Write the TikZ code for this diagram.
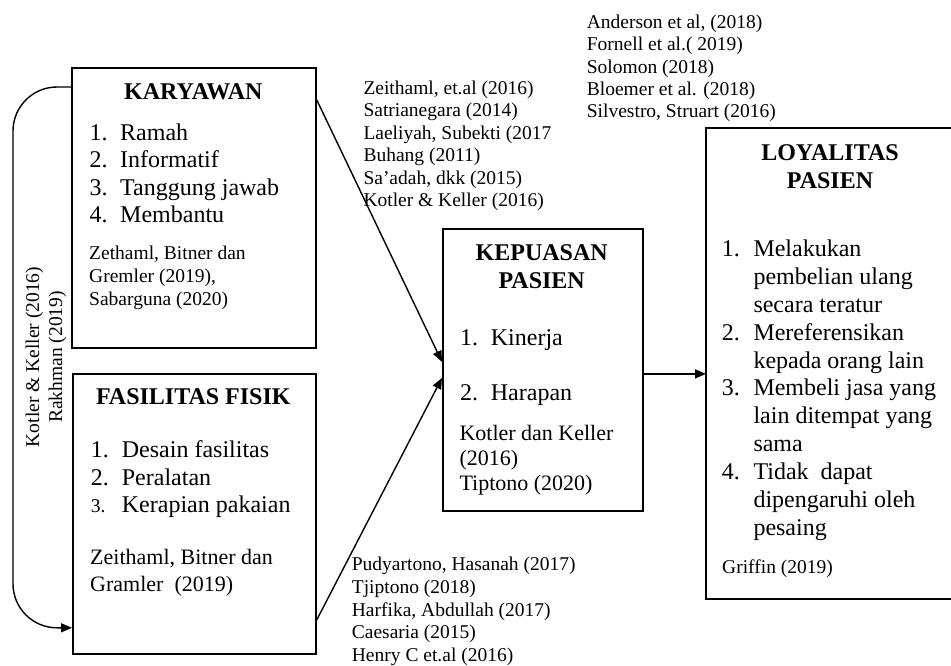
\documentclass[tikz,border=0pt]{standalone}
\usepackage{fontspec}
\setmainfont{Liberation Serif}
\usetikzlibrary{arrows.meta}
\begin{document}
\begin{tikzpicture}[x=1pt,y=-1pt,
  box/.style={draw, line width=1.8pt, inner sep=0pt, anchor=north west},
  arr/.style={line width=1.4pt, -{Triangle[length=11pt,width=9pt]}},
  big/.style={font=\fontsize{24}{27.6}\selectfont, inner sep=0pt, anchor=base west},
  ttl/.style={font=\fontsize{24}{28}\selectfont\bfseries, inner sep=0pt, anchor=base},
  ref/.style={font=\fontsize{19.5}{22.7}\selectfont, inner sep=0pt, anchor=base west},
  mid/.style={font=\fontsize{22}{26}\selectfont, inner sep=0pt, anchor=base west}]
\useasboundingbox (0,0) rectangle (951,665);
% boxes
\node[box, minimum width=244pt, minimum height=280pt] (kar) at (71,67) {};
\node[box, minimum width=243pt, minimum height=280pt] (fas) at (72,373) {};
\node[box, minimum width=200pt, minimum height=282pt] (kep) at (442,228) {};
\node[box, draw=none, minimum width=400pt, minimum height=469pt] (loy) at (706,128) {};
\draw[line width=1.8pt] ([xshift=-60pt]loy.north east) -- (loy.north west) -- (loy.south west) -- ([xshift=-60pt]loy.south east);
% titles
\node[ttl] (karT) at (193.3,99.3) {KARYAWAN};
\node[ttl] (fasT) at (193.3,404) {FASILITAS FISIK};
\node[ttl] (kepT1) at (541.7,260) {KEPUASAN};
\node[ttl] (kepT2) at (541.7,288.3) {PASIEN};
\node[ttl] (loyT1) at (830,160.7) {LOYALITAS};
\node[ttl] (loyT2) at (830,188.3) {PASIEN};
% KARYAWAN list
\foreach \n/\t [count=\i] in {1./Ramah, 2./Informatif, 3./Tanggung jawab, 4./Membantu}{
  \node[big] (karN\i) at (89.3,{140+27.6*(\i-1)}) {\n};
  \node[big] (karL\i) at (120,{140+27.6*(\i-1)}) {\t};
}
\foreach \t [count=\i] in {{Zethaml, Bitner dan}, {Gremler (2019),}, {Sabarguna (2020)}}{
  \node[ref] (karR\i) at (89,{259.3+22.85*(\i-1)}) {\t};
}
% FASILITAS list
\node[big] (fasN1) at (90.7,457.3) {1.};
\node[big] (fasL1) at (121.7,457.3) {Desain fasilitas};
\node[big] (fasN2) at (90.7,485) {2.};
\node[big] (fasL2) at (121.7,485) {Peralatan};
\node[big, font=\fontsize{19.5}{22}\selectfont] (fasN3) at (90.7,512.7) {3.};
\node[big] (fasL3) at (121.7,512.7) {Kerapian pakaian};
\node[mid] (fasR1) at (90,564) {Zeithaml, Bitner dan};
\node[mid] (fasR2) at (90,591.7) {Gramler\ \ (2019)};
% KEPUASAN list
\node[big] (kepN1) at (460,345) {1.};
\node[big] (kepL1) at (490.7,345) {Kinerja};
\node[big] (kepN2) at (460,400) {2.};
\node[big] (kepL2) at (490.7,400) {Harapan};
\node[mid] (kepR1) at (459.3,440) {Kotler dan Keller};
\node[mid] (kepR2) at (459.3,465) {(2016)};
\node[mid] (kepR3) at (459.3,490) {Tiptono (2020)};
% LOYALITAS list
\foreach \n/\t [count=\i] in {1./Melakukan, /pembelian ulang, /secara teratur, 2./Mereferensikan, /kepada orang lain, 3./Membeli jasa yang, /lain ditempat yang, /sama, 4./Tidak\ \ dapat, /dipengaruhi oleh, /pesaing}{
  \node[big] (loyN\i) at (721.7,{256.7+27.85*(\i-1)}) {\n};
  \node[big] (loyL\i) at (753.3,{256.7+27.85*(\i-1)}) {\t};
}
\node[ref] (loyR) at (722,573.3) {Griffin (2019)};
% citation groups
\foreach \t [count=\i] in {{Zeithaml, et.al (2016)}, {Satrianegara (2014)}, {Laeliyah, Subekti (2017}, {Buhang (2011)}, {Sa’adah, dkk (2015)}, {Kotler \& Keller (2016)}}{
  \node[ref] (topA\i) at (363.3,{94+22.55*(\i-1)}) {\t};
}
\foreach \t [count=\i] in {{Anderson et al, (2018)}, {Fornell et al.( 2019)}, {Solomon (2018)}, {Bloemer et al. (2018)}, {Silvestro, Struart (2016)}}{
  \node[ref] (topB\i) at (586.7,{28.3+22.35*(\i-1)}) {\t};
}
\foreach \t [count=\i] in {{Pudyartono, Hasanah (2017)}, {Tjiptono (2018)}, {Harfika, Abdullah (2017)}, {Caesaria (2015)}, {Henry C et.al (2016)}}{
  \node[ref] (bot\i) at (351.7,{570.7+22.75*(\i-1)}) {\t};
}
% rotated label
\node[font=\fontsize{19.5}{23}\selectfont, align=center, rotate=90, inner sep=0pt] (side) at (46,357) {Kotler \& Keller (2016)\\Rakhman (2019)};
% connectors
\draw[arr] ([yshift=-33pt]kar.north east) -- ([yshift=8pt]kep.west);
\draw[arr] ([yshift=35pt]fas.south east) -- ([yshift=-8pt]kep.west);
\draw[arr] ([yshift=-4pt]kep.east) -- ([yshift=-10.5pt]loy.west);
\draw[arr, rounded corners=44pt] ([yshift=-20pt]kar.north west) -| ([xshift=-59pt,yshift=27pt]fas.south west) -- ([yshift=27pt]fas.south west);
\end{tikzpicture}
\end{document}
